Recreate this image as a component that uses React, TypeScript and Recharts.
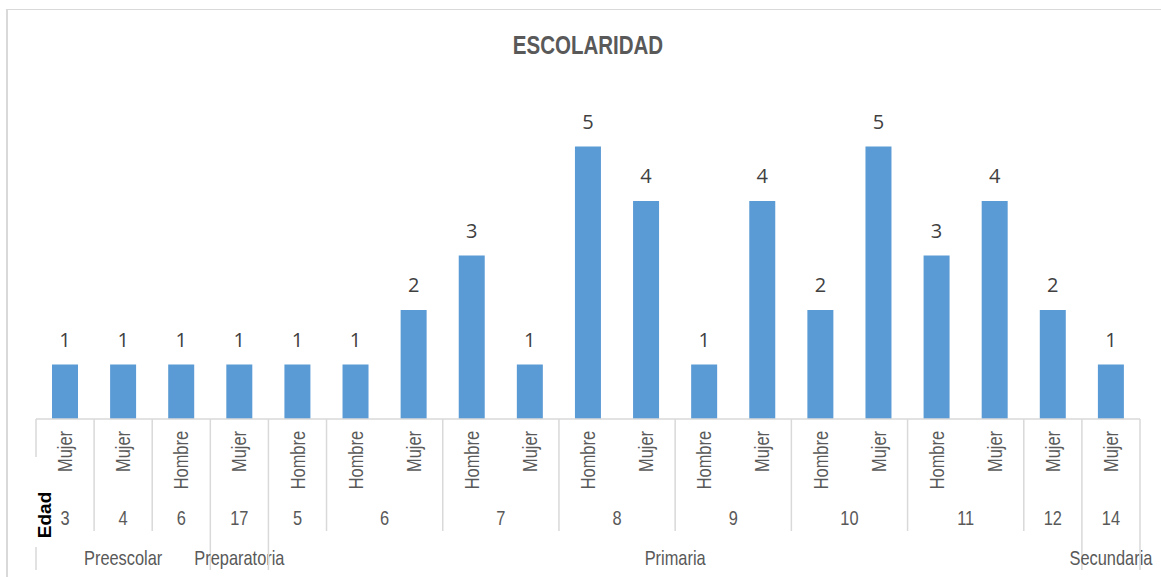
import React from 'react';
import { BarChart, Bar, XAxis, YAxis, LabelList } from 'recharts';

// Categories (three-level axis: sex / age / school level) and counts
const sexLabels = [
  'Mujer', 'Mujer', 'Hombre', 'Mujer', 'Hombre', 'Hombre', 'Mujer', 'Hombre', 'Mujer', 'Hombre',
  'Mujer', 'Hombre', 'Mujer', 'Hombre', 'Mujer', 'Hombre', 'Mujer', 'Mujer', 'Mujer',
];
const ageLabels = ['3', '4', '6', '17', '5', '6', '6', '7', '7', '8', '8', '9', '9', '10', '10', '11', '11', '12', '14'];
const levelLabels = [
  'Preescolar', 'Preescolar', 'Preescolar', 'Preparatoria',
  'Primaria', 'Primaria', 'Primaria', 'Primaria', 'Primaria', 'Primaria', 'Primaria',
  'Primaria', 'Primaria', 'Primaria', 'Primaria', 'Primaria', 'Primaria', 'Primaria',
  'Secundaria',
];
const counts = [1, 1, 1, 1, 1, 1, 2, 3, 1, 5, 4, 1, 4, 2, 5, 3, 4, 2, 1];

const data = counts.map((value, i) => ({ idx: i, value }));

// no Arial Narrow available, so squeeze Liberation Sans horizontally
const FONT = '"Liberation Sans", Arial, sans-serif';
const SQUEEZE = 0.82;
const GRID = '#d9d9d9';
const TEXT = '#595959';

const isAgeStart = (i: number) =>
  i === 0 || ageLabels[i] !== ageLabels[i - 1] || levelLabels[i] !== levelLabels[i - 1];
const isLevelStart = (i: number) => i === 0 || levelLabels[i] !== levelLabels[i - 1];

const groupLength = (i: number, sameGroup: (a: number, b: number) => boolean) => {
  let n = 1;
  while (i + n < counts.length && sameGroup(i, i + n)) n++;
  return n;
};

function NarrowText({ x, y, rotate = 0, anchor = 'middle', children, ...rest }: any) {
  return (
    <text
      x={0}
      y={0}
      transform={`translate(${x}, ${y}) rotate(${rotate}) scale(${SQUEEZE}, 1)`}
      textAnchor={anchor}
      fontFamily={FONT}
      fontSize={20}
      fill={TEXT}
      {...rest}
    >
      {children}
    </text>
  );
}

function MultiTick(props: any) {
  const { x, y, payload } = props;
  const i: number = payload.index ?? payload.value;
  const half: number = payload.offset || 29;
  const left = x - half;
  const parts: React.ReactNode[] = [];

  // sex label, rotated
  parts.push(
    <NarrowText key="sex" x={x} y={y + 12} rotate={-90} anchor="end" dominantBaseline="central">
      {sexLabels[i]}
    </NarrowText>
  );

  if (isAgeStart(i)) {
    const n = groupLength(i, (a, b) => ageLabels[a] === ageLabels[b] && levelLabels[a] === levelLabels[b]);
    parts.push(
      <NarrowText key="age" x={x + (n - 1) * half} y={y + 106}>
        {ageLabels[i]}
      </NarrowText>
    );
    if (!isLevelStart(i)) {
      parts.push(<line key="al" x1={left} x2={left} y1={y} y2={y + 112} stroke={GRID} strokeWidth={1.5} />);
    }
  }

  if (isLevelStart(i)) {
    const n = groupLength(i, (a, b) => levelLabels[a] === levelLabels[b]);
    parts.push(<line key="ll" x1={left} x2={left} y1={y} y2={y + 151} stroke={GRID} strokeWidth={1.5} />);
    parts.push(
      <NarrowText key="lvl" x={x + (n - 1) * half} y={y + 146}>
        {levelLabels[i]}
      </NarrowText>
    );
  }

  if (i === counts.length - 1) {
    parts.push(<line key="rl" x1={x + half} x2={x + half} y1={y} y2={y + 151} stroke={GRID} strokeWidth={1.5} />);
  }

  if (i === 0) {
    // "Edad" axis caption sits over the left boundary line
    parts.push(<rect key="eb" x={left - 1} y={y + 38} width={19} height={90} fill="#ffffff" />);
    parts.push(
      <text
        key="edad"
        x={0}
        y={0}
        transform={`translate(${left + 8}, ${y + 96}) rotate(-90)`}
        textAnchor="middle"
        dominantBaseline="central"
        fontFamily={FONT}
        fontWeight="bold"
        fontSize={19}
        fill="#000000"
      >
        Edad
      </text>
    );
  }

  return <g>{parts}</g>;
}

export default function App() {
  return (
    <div style={{ position: 'absolute', left: 0, top: 0, width: 1161, height: 577, background: '#ffffff', overflow: 'hidden' }}>
      <div
        style={{
          position: 'absolute',
          left: 6,
          top: 9,
          width: 1200,
          height: 620,
          borderTop: `1px solid ${GRID}`,
          borderLeft: `2px solid ${GRID}`,
        }}
      />
      <div
        style={{
          position: 'absolute',
          left: 0,
          width: 1176,
          top: 31,
          textAlign: 'center',
          fontFamily: FONT,
          fontWeight: 'bold',
          fontSize: 25,
          color: TEXT,
          transform: `scaleX(${SQUEEZE})`,
        }}
      >
        ESCOLARIDAD
      </div>
      <div style={{ position: 'absolute', left: 0, top: 0 }}>
        <BarChart
          width={1161}
          height={577}
          data={data}
          margin={{ top: 92, right: 21, bottom: 0, left: 36 }}
          barCategoryGap={16}
        >
          <XAxis
            dataKey="idx"
            type="category"
            height={158}
            interval={0}
            tickLine={false}
            tickSize={0}
            tickMargin={0}
            axisLine={{ stroke: GRID, strokeWidth: 1.5 }}
            tick={<MultiTick />}
          />
          <YAxis hide domain={[0, 6]} />
          <Bar dataKey="value" fill="#5b9bd5" isAnimationActive={false}>
            <LabelList
              dataKey="value"
              position="top"
              offset={18}
              fill="#404040"
              fontSize={20}
              fontFamily='"Open Sans", "Noto Sans", sans-serif'
            />
          </Bar>
        </BarChart>
      </div>
    </div>
  );
}
